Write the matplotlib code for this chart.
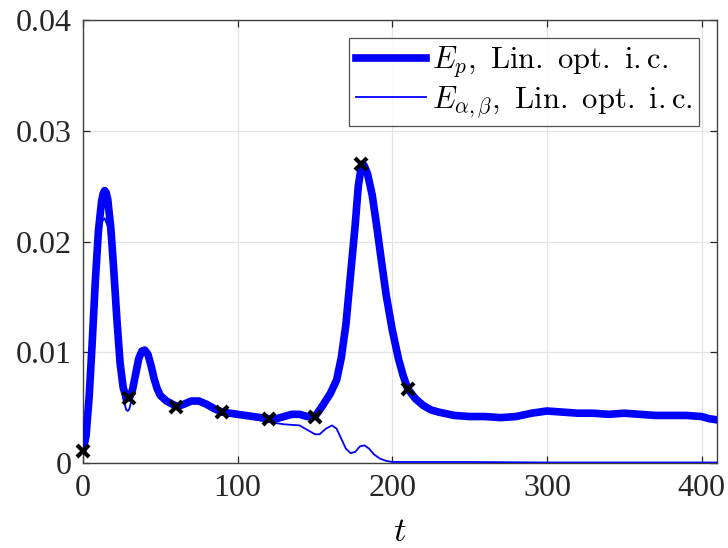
import matplotlib
matplotlib.use("Agg")
import matplotlib.pyplot as plt
from matplotlib.ticker import FuncFormatter

plt.rcParams["font.family"] = ["Liberation Serif", "DejaVu Serif"]
plt.rcParams["mathtext.fontset"] = "cm"

# Perturbation energy E_p (thick curve)
t_p = [0, 2, 4, 6, 8, 10, 12, 13, 14, 15, 16, 18, 20, 22, 24, 26, 28, 30, 32, 34,
       36, 38, 40, 42, 44, 46, 48, 50, 54, 58, 61, 65, 70, 75, 80, 85, 90, 95,
       100, 110, 120, 125, 130, 135, 140, 145, 150, 155, 160, 164, 167, 170, 173,
       176, 178, 180, 181, 182, 184, 187, 190, 193, 196, 200, 204, 207, 210, 215,
       220, 225, 230, 240, 250, 260, 270, 280, 290, 300, 310, 320, 330, 340, 350,
       360, 370, 380, 390, 400, 405, 410]
E_p = [0.0011, 0.0025, 0.0060, 0.0110, 0.0165, 0.0210, 0.0236, 0.0243, 0.0246,
       0.0244, 0.0238, 0.0212, 0.0172, 0.0128, 0.0090, 0.0068, 0.0059, 0.0059,
       0.0066, 0.0080, 0.0094, 0.0101, 0.0102, 0.0098, 0.0088, 0.0076, 0.0067,
       0.0061, 0.0056, 0.0053, 0.0051, 0.0053, 0.0056, 0.0056, 0.0053, 0.0049,
       0.0046, 0.0045, 0.0044, 0.0042, 0.0040, 0.0040, 0.0042, 0.0044, 0.0044,
       0.0042, 0.0042, 0.0052, 0.0063, 0.0075, 0.0095, 0.0125, 0.0170, 0.0215,
       0.0250, 0.0268, 0.0270, 0.0268, 0.0261, 0.0242, 0.0213, 0.0182, 0.0152,
       0.0120, 0.0094, 0.0079, 0.0067, 0.0058, 0.0052, 0.0048, 0.0046, 0.0043,
       0.0042, 0.0042, 0.0041, 0.0042, 0.0045, 0.0047, 0.0046, 0.0045, 0.0045,
       0.0044, 0.0045, 0.0044, 0.0043, 0.0043, 0.0043, 0.0042, 0.0040, 0.0039]

# Energy E_{alpha,beta} (thin curve)
t_ab = [0, 2, 4, 6, 8, 10, 12, 14, 16, 18, 20, 22, 24, 26, 28, 29, 30, 32, 34, 36,
        38, 40, 42, 44, 46, 48, 50, 54, 58, 61, 65, 70, 75, 80, 85, 90, 95, 100,
        110, 120, 130, 140, 145, 150, 153, 157, 161, 164, 167, 170, 173, 176, 179,
        182, 185, 188, 192, 196, 200, 220, 250, 300, 350, 410]
E_ab = [0.0011, 0.0024, 0.0057, 0.0104, 0.0155, 0.0196, 0.0218, 0.0221, 0.0214,
        0.0192, 0.0155, 0.0115, 0.0080, 0.0058, 0.0048, 0.0047, 0.0049, 0.0060,
        0.0078, 0.0093, 0.0100, 0.0101, 0.0097, 0.0087, 0.0075, 0.0066, 0.0060,
        0.0055, 0.0052, 0.0050, 0.0052, 0.0055, 0.0055, 0.0052, 0.0048, 0.0045,
        0.0044, 0.0043, 0.0040, 0.0037, 0.0035, 0.0034, 0.0030, 0.0026, 0.0026,
        0.0031, 0.0034, 0.0031, 0.0022, 0.0013, 0.0009, 0.0010, 0.0015, 0.0016,
        0.0013, 0.0008, 0.0004, 0.0002, 0.0001, 0.0001, 0.0001, 0.00005, 0.00005,
        0.00005]

# Snapshot instants marked on E_p
t_mark = [0, 30, 60, 90, 120, 150, 180, 210]
E_mark = [0.0011, 0.0059, 0.0051, 0.0046, 0.0040, 0.0042, 0.0270, 0.0067]

x_ticks = [0, 100, 200, 300, 400]
y_ticks = [0, 0.01, 0.02, 0.03, 0.04]

fig = plt.figure(figsize=(7.28, 5.48), dpi=100)
ax = fig.add_axes([0.114, 0.155, 0.871, 0.8085])

ax.plot(t_p, E_p, color="#0000ff", lw=5.5, solid_joinstyle="round",
        label=r"$E_p\mathrm{,\ Lin.\ opt.\ i.c.}$", zorder=3)
ax.plot(t_ab, E_ab, color="#0000ff", lw=1.3,
        label=r"$E_{\alpha,\beta}\mathrm{,\ Lin.\ opt.\ i.c.}$", zorder=4)
ax.plot(t_mark, E_mark, linestyle="none", marker="x", color="black",
        markersize=9, mew=3, zorder=5, clip_on=False)

ax.set_xlim(0, 410)
ax.set_ylim(0, 0.04)
ax.set_xticks(x_ticks)
ax.set_yticks(y_ticks)
ax.yaxis.set_major_formatter(FuncFormatter(lambda v, p: "%g" % v))
ax.grid(True, color="#e3e3e3", lw=0.9)
ax.set_axisbelow(True)

for s in ax.spines.values():
    s.set_color("#404040")
    s.set_linewidth(1.0)
ax.tick_params(direction="in", length=5, width=0.9, color="#262626",
               labelsize=23, labelcolor="#262626", top=True, right=True, pad=8)

ax.set_xlabel(r"$t$", fontsize=25, labelpad=9)

leg = ax.legend(loc="upper right", fontsize=22, frameon=True, fancybox=False,
                handlelength=2.3, handletextpad=0.2, borderpad=0.2,
                labelspacing=0.15, borderaxespad=0.6)
leg.get_frame().set_edgecolor("#262626")
leg.get_frame().set_linewidth(0.9)

fig.savefig("out.png", dpi=100)
